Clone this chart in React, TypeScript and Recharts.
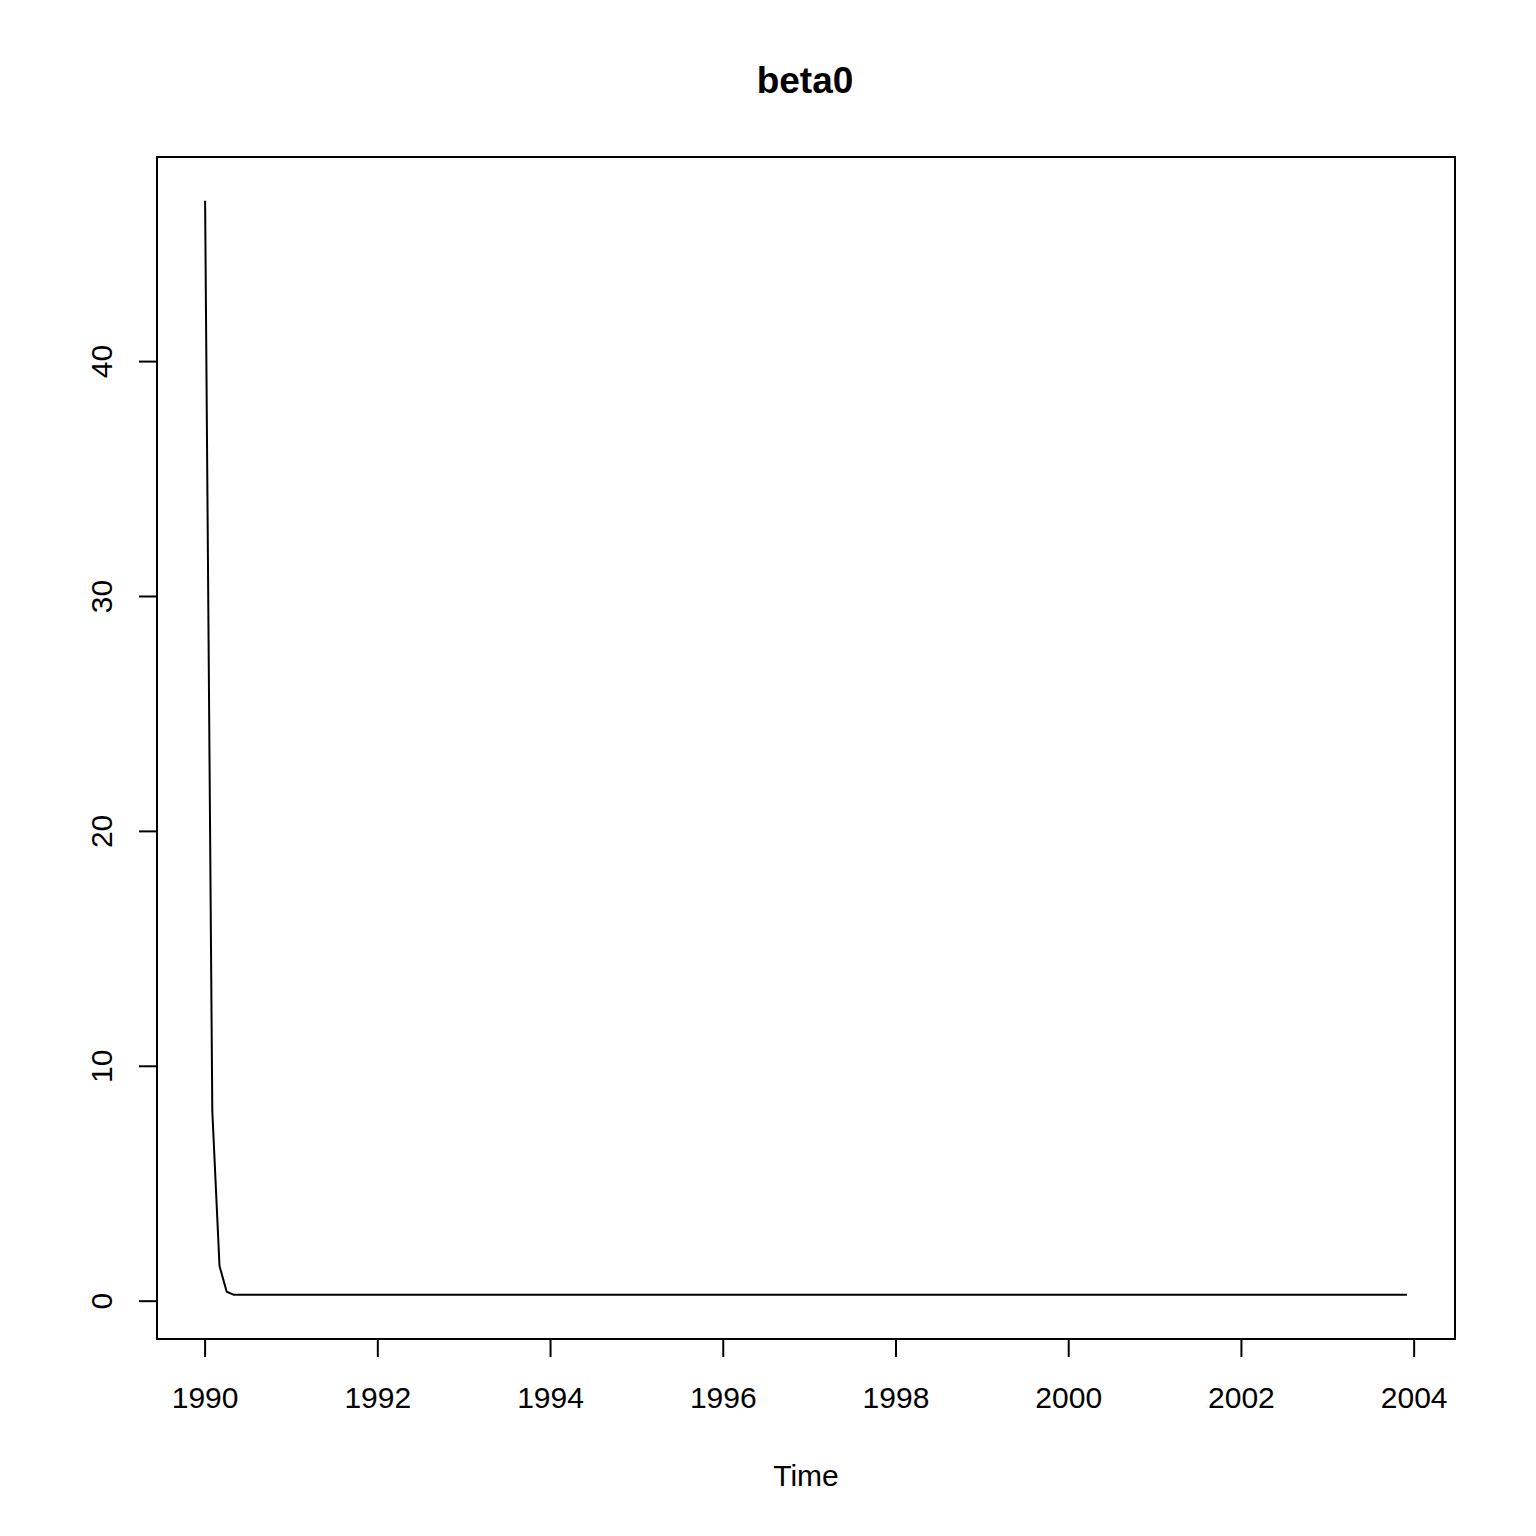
import { Line, LineChart, ReferenceArea, XAxis, YAxis } from "recharts";

// monthly ts, only the months where the series moves plus the last month
const times = [1990, 1990.0833, 1990.1667, 1990.25, 1990.3333, 2003.9167];
const beta0 = [46.85, 8.1, 1.5, 0.4, 0.27, 0.27];

const xTicks = [1990, 1992, 1994, 1996, 1998, 2000, 2002, 2004];
const yTicks = [0, 10, 20, 30, 40];

const X_DOMAIN: [number, number] = [1989.443, 2004.473];
const Y_DOMAIN: [number, number] = [-1.61, 48.71];

const data = times.map((t, i) => ({ t, v: beta0[i] }));

const FONT = "'Liberation Sans', Arial, sans-serif";

function YTick(props: any) {
  const { x, y, payload } = props;
  const tx = x - 27;
  return (
    <text
      x={tx}
      y={y}
      transform={`rotate(-90, ${tx}, ${y})`}
      textAnchor="middle"
      fontSize={30}
      fontFamily={FONT}
      fill="#000"
    >
      {payload.value}
    </text>
  );
}

export default function App() {
  return (
    <div style={{ position: "absolute", left: 0, top: 0, width: 1536, height: 1536, background: "#fff" }}>
      <LineChart
        width={1536}
        height={1536}
        data={data}
        margin={{ top: 157, right: 81, left: 77, bottom: 117 }}
      >
        <XAxis
          dataKey="t"
          type="number"
          domain={X_DOMAIN}
          ticks={xTicks}
          allowDataOverflow
          height={80}
          axisLine={false}
          tickSize={18}
          tickMargin={30}
          tickLine={{ stroke: "#000", strokeWidth: 2 }}
          tick={{ fontSize: 30, fill: "#000", fontFamily: FONT }}
        />
        <YAxis
          type="number"
          domain={Y_DOMAIN}
          ticks={yTicks}
          allowDataOverflow
          width={80}
          axisLine={false}
          tickSize={18}
          tickMargin={0}
          tickLine={{ stroke: "#000", strokeWidth: 2 }}
          tick={<YTick />}
        />
        <ReferenceArea
          x1={X_DOMAIN[0]}
          x2={X_DOMAIN[1]}
          y1={Y_DOMAIN[0]}
          y2={Y_DOMAIN[1]}
          fill="none"
          fillOpacity={0}
          stroke="#000"
          strokeWidth={2}
        />
        <Line
          type="linear"
          dataKey="v"
          stroke="#000"
          strokeWidth={2}
          dot={false}
          activeDot={false}
          isAnimationActive={false}
        />
      </LineChart>
      <svg
        width={1536}
        height={1536}
        style={{ position: "absolute", left: 0, top: 0, pointerEvents: "none" }}
      >
        <text x={805} y={93} textAnchor="middle" fontSize={37} fontWeight="bold" fontFamily={FONT} fill="#000">
          beta0
        </text>
        <text x={806} y={1486} textAnchor="middle" fontSize={30} fontFamily={FONT} fill="#000">
          Time
        </text>
      </svg>
    </div>
  );
}
